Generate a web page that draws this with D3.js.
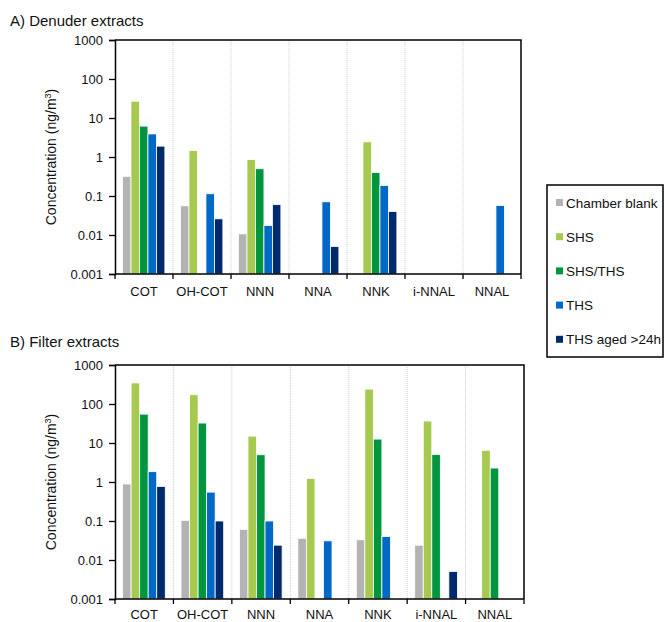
<!DOCTYPE html>
<html>
<head>
<meta charset="utf-8">
<script src="https://cdn.jsdelivr.net/npm/d3@7"></script>
<style>
  body { margin: 0; background: #fff; }
  svg { font-family: Arial, "Liberation Sans", sans-serif; }
</style>
</head>
<body>
<div id="chart"></div>
<script>
// Categories and series
var categories = ["COT", "OH-COT", "NNN", "NNA", "NNK", "i-NNAL", "NNAL"];
var seriesNames = ["Chamber blank", "SHS", "SHS/THS", "THS", "THS aged >24h"];
var seriesColors = ["#b3b3b3", "#a6c94f", "#00963f", "#0068c6", "#002a6c"];
var yTicks = [0.001, 0.01, 0.1, 1, 10, 100, 1000];
var yTickLabels = ["0.001", "0.01", "0.1", "1", "10", "100", "1000"];

// A) Denuder extracts (ng/m3), null = not detected
var denuderBlank  = [0.32, 0.056, 0.0107, null, null, null, null];
var denuderSHS    = [27, 1.47, 0.86, null, 2.45, null, null];
var denuderSHSTHS = [6.2, null, 0.50, null, 0.40, null, null];
var denuderTHS    = [3.9, 0.114, 0.0175, 0.071, 0.185, null, 0.057];
var denuderAged   = [1.9, 0.026, 0.06, 0.0051, 0.040, null, null];

// B) Filter extracts (ng/m3)
var filterBlank  = [0.89, 0.104, 0.061, 0.036, 0.033, 0.024, null];
var filterSHS    = [347, 173, 15, 1.24, 241, 36.6, 6.5];
var filterSHSTHS = [55, 32.5, 5.0, null, 12.6, 5.1, 2.28];
var filterTHS    = [1.84, 0.55, 0.10, 0.031, 0.040, null, null];
var filterAged   = [0.77, 0.10, 0.024, null, null, 0.0051, null];

var svgWidth = 665;
var svgHeight = 622;

var svg = d3.select("#chart")
  .append("svg")
  .attr("width", svgWidth)
  .attr("height", svgHeight);

function drawPanel(title, titleY, top, right, labelOffset, series) {
  var left = 115;
  var bottom = top + 234;

  var xScale = d3.scaleBand()
    .domain(categories)
    .range([left, right]);

  var innerScale = d3.scaleBand()
    .domain(seriesNames)
    .range([xScale.bandwidth() * 0.13, xScale.bandwidth() * 0.86]);

  var yScale = d3.scaleLog()
    .domain([0.001, 1000])
    .range([bottom, top]);

  // panel title
  svg.append("text")
    .attr("x", 10)
    .attr("y", titleY)
    .style("font-size", "15px")
    .attr("fill", "#111")
    .text(title);

  // dotted separators between categories
  svg.append("g")
    .selectAll("line")
    .data(categories.slice(1))
    .enter()
    .append("line")
    .attr("x1", d => xScale(d))
    .attr("x2", d => xScale(d))
    .attr("y1", top)
    .attr("y2", bottom)
    .attr("stroke", "#cfcfcf")
    .attr("stroke-width", 1)
    .attr("stroke-dasharray", "1,1");

  // bars
  series.forEach(function(values, i) {
    var rows = categories.map((c, j) => ({ cat: c, value: values[j] }))
      .filter(d => d.value != null);
    svg.append("g")
      .selectAll("rect")
      .data(rows)
      .enter()
      .append("rect")
      .attr("x", d => xScale(d.cat) + innerScale(seriesNames[i]))
      .attr("width", innerScale.bandwidth())
      .attr("y", d => yScale(d.value))
      .attr("height", d => bottom - yScale(d.value))
      .attr("fill", seriesColors[i])
      .attr("stroke", "#fff")
      .attr("stroke-width", 0.8);
  });

  // y axis
  var leftAxis = d3.axisLeft(yScale)
    .tickValues(yTicks)
    .tickFormat((d, i) => yTickLabels[i])
    .tickSize(6)
    .tickPadding(6);

  var yAxis = svg.append("g")
    .attr("transform", `translate(${left}, 0)`)
    .call(leftAxis);
  yAxis.select(".domain").attr("stroke-width", 1.5);
  yAxis.selectAll(".tick line").attr("stroke-width", 1.3);
  yAxis.selectAll("text").style("font-size", "13px").attr("fill", "#111");

  // x axis: ticks at category boundaries
  var xAxis = svg.append("g");
  xAxis.append("line")
    .attr("x1", left)
    .attr("x2", right)
    .attr("y1", bottom)
    .attr("y2", bottom)
    .attr("stroke", "#000")
    .attr("stroke-width", 1.5);
  xAxis.selectAll("line.tick")
    .data(categories.concat(["end"]))
    .enter()
    .append("line")
    .attr("class", "tick")
    .attr("x1", d => d === "end" ? right : xScale(d))
    .attr("x2", d => d === "end" ? right : xScale(d))
    .attr("y1", bottom)
    .attr("y2", bottom + 5)
    .attr("stroke", "#000")
    .attr("stroke-width", 1.3);
  xAxis.selectAll("text")
    .data(categories)
    .enter()
    .append("text")
    .attr("x", d => xScale(d) + xScale.bandwidth() / 2)
    .attr("y", bottom + labelOffset)
    .attr("text-anchor", "middle")
    .style("font-size", "13px")
    .attr("fill", "#111")
    .text(d => d);

  // top and right border
  svg.append("path")
    .attr("d", `M${left},${top}H${right}V${bottom}`)
    .attr("fill", "none")
    .attr("stroke", "#000")
    .attr("stroke-width", 1.5);

  // y axis label
  var yLabel = svg.append("text")
    .attr("transform", `translate(56, ${(top + bottom) / 2}) rotate(-90)`)
    .attr("text-anchor", "middle")
    .style("font-size", "14px")
    .attr("fill", "#111");
  yLabel.append("tspan").text("Concentration (ng/m");
  yLabel.append("tspan").attr("dy", -5).style("font-size", "9px").text("3");
  yLabel.append("tspan").attr("dy", 5).text(")");
}

drawPanel("A) Denuder extracts", 26, 40, 521, 22,
  [denuderBlank, denuderSHS, denuderSHSTHS, denuderTHS, denuderAged]);
drawPanel("B) Filter extracts", 347, 365, 524, 19.5,
  [filterBlank, filterSHS, filterSHSTHS, filterTHS, filterAged]);

// Legend
var legend = svg.append("g");
legend.append("rect")
  .attr("x", 547)
  .attr("y", 185)
  .attr("width", 116)
  .attr("height", 172)
  .attr("fill", "#fff")
  .attr("stroke", "#000")
  .attr("stroke-width", 1.5);

var legendItems = legend.selectAll("g.item")
  .data(seriesNames)
  .enter()
  .append("g")
  .attr("class", "item")
  .attr("transform", (d, i) => `translate(556, ${202.5 + i * 34.2})`);

legendItems.append("rect")
  .attr("x", 0)
  .attr("y", -3.5)
  .attr("width", 7)
  .attr("height", 7)
  .attr("fill", (d, i) => seriesColors[i]);

legendItems.append("text")
  .attr("x", 10)
  .attr("y", 5)
  .style("font-size", "13.5px")
  .attr("fill", "#111")
  .text(d => d);
</script>
</body>
</html>
